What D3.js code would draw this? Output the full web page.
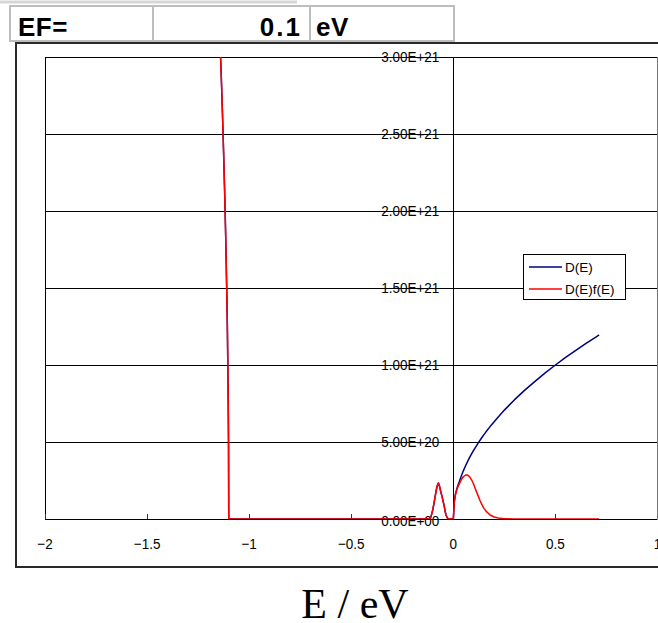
<!DOCTYPE html>
<html>
<head>
<meta charset="utf-8">
<script src="https://cdn.jsdelivr.net/npm/d3@7"></script>
<style>
  html, body { margin: 0; padding: 0; background: #fff; }
  svg { display: block; }
  .tick-label { font-family: "Liberation Sans", Arial, sans-serif; font-size: 15px; fill: #000; }
  .legend-label { font-family: "Liberation Sans", Arial, sans-serif; font-size: 13.5px; fill: #000; }
</style>
</head>
<body>
<svg id="chart" width="658" height="623"></svg>
<script>
// Fermi level shown in the header cells
const fermiLevel = "0.1";

// Energy grid (eV) shared by both curves
const energy = [
  -1.150, -1.145, -1.140, -1.135, -1.130, -1.125, -1.120, -1.115, -1.110, -1.107, -1.104, -1.102, -1.101, -1.100,
  -0.120, -0.117, -0.110, -0.101, -0.095, -0.085, -0.079, -0.073, -0.068, -0.060, -0.055, -0.049, -0.044, -0.040, -0.036, -0.030, -0.023,
  0.000, 0.005, 0.010, 0.020, 0.030, 0.040, 0.050, 0.060, 0.070, 0.080, 0.090, 0.100, 0.110, 0.120, 0.130, 0.140, 0.150, 0.160,
  0.180, 0.200, 0.220, 0.250, 0.300, 0.350, 0.400, 0.450, 0.500, 0.550, 0.600, 0.650, 0.700, 0.714
];

// Density of states D(E)
const dos = [
  3.35e21, 3.18e21, 3.00e21, 2.81e21, 2.60e21, 2.37e21, 2.12e21, 1.84e21, 1.50e21, 1.26e21, 9.5e20, 6.7e20, 4.7e20, 0,
  0, 0, 1.2e19, 5.8e19, 1.00e20, 1.77e20, 2.15e20, 2.34e20, 2.15e20, 1.70e20, 1.45e20, 1.10e20, 8.0e19, 5.0e19, 2.6e19, 8e18, 0,
  0, 1.15e20, 1.60e20, 2.10e20, 2.45e20, 2.83e20, 3.16e20, 3.46e20, 3.74e20, 4.00e20, 4.24e20, 4.47e20, 4.69e20, 4.90e20, 5.10e20, 5.29e20, 5.48e20, 5.66e20,
  6.00e20, 6.32e20, 6.63e20, 7.07e20, 7.75e20, 8.37e20, 8.94e20, 9.49e20, 1.000e21, 1.049e21, 1.095e21, 1.140e21, 1.183e21, 1.195e21
];

// Occupied states D(E)f(E)
const dosOccupied = [
  3.35e21, 3.18e21, 3.00e21, 2.81e21, 2.60e21, 2.37e21, 2.12e21, 1.84e21, 1.50e21, 1.26e21, 9.5e20, 6.7e20, 4.7e20, 0,
  0, 0, 1.2e19, 5.8e19, 1.00e20, 1.77e20, 2.15e20, 2.34e20, 2.15e20, 1.70e20, 1.44e20, 1.09e20, 7.9e19, 4.9e19, 2.6e19, 8e18, 0,
  0, 1.12e20, 1.55e20, 2.01e20, 2.30e20, 2.58e20, 2.76e20, 2.85e20, 2.85e20, 2.74e20, 2.53e20, 2.24e20, 1.89e20, 1.55e20, 1.22e20, 9.3e19, 6.9e19, 5.1e19,
  2.6e19, 1.3e19, 6.3e18, 2.1e18, 3e17, 0, 0, 0, 0, 0, 0, 0, 0, 0
];

const xTicks = [-2, -1.5, -1, -0.5, 0, 0.5, 1];
const yTicks = [0, 5e20, 1e21, 1.5e21, 2e21, 2.5e21, 3e21];
const seriesNames = ["D(E)", "D(E)f(E)"];
const seriesColors = ["#000080", "#ff0000"];

// axis labels use a horizontally condensed sans face
const NARROW = 0.9;
const narrowText = (sel, px, py) =>
  sel.attr("class", "tick-label")
     .attr("transform", (d, i) => `translate(${px(d, i)},${py(d, i)}) scale(${NARROW},1)`);

const svg = d3.select("#chart");

// ---- header cells: "EF= | 0.1 | eV" ----
svg.append("line").attr("x1", 0).attr("x2", 297).attr("y1", 2).attr("y2", 2)
  .attr("stroke", "#d6d6d6").attr("stroke-width", 3);
const header = svg.append("g");
header.append("rect").attr("x", 10).attr("y", 6).attr("width", 444).attr("height", 35)
  .attr("fill", "#fff").attr("stroke", "#bdbdbd").attr("stroke-width", 2);
[153, 310].forEach(x => header.append("line").attr("x1", x).attr("x2", x).attr("y1", 6).attr("y2", 41)
  .attr("stroke", "#bdbdbd").attr("stroke-width", 2));
const headStyle = s => s.attr("font-family", "'Liberation Sans', Arial, sans-serif")
  .attr("font-weight", "bold").attr("font-size", 26).attr("fill", "#000");
header.append("text").attr("x", 18).attr("y", 36).attr("letter-spacing", 0.5).text("EF=").call(headStyle);
header.append("text").attr("x", 302).attr("y", 36).attr("text-anchor", "end").attr("letter-spacing", 2).text(fermiLevel).call(headStyle);
header.append("text").attr("x", 316).attr("y", 36).attr("letter-spacing", 0.5).text("eV").call(headStyle);

// ---- chart frame ----
svg.append("rect").attr("x", 16).attr("y", 43).attr("width", 700).attr("height", 524)
  .attr("fill", "none").attr("stroke", "#2a2a2a").attr("stroke-width", 2);

// ---- plot area ----
const plot = { left: 45, right: 657.5, top: 57, bottom: 519 };
const x = d3.scaleLinear().domain([-2, 1]).range([plot.left, plot.right]);
const y = d3.scaleLinear().domain([0, 3e21]).range([plot.bottom, plot.top]);

svg.append("defs").append("clipPath").attr("id", "plot-clip")
  .append("rect").attr("x", plot.left).attr("y", plot.top)
  .attr("width", plot.right - plot.left).attr("height", plot.bottom - plot.top);

// horizontal grid lines
svg.append("g").selectAll("line").data(yTicks).join("line")
  .attr("x1", plot.left).attr("x2", plot.right)
  .attr("y1", d => Math.round(y(d)) + 0.5).attr("y2", d => Math.round(y(d)) + 0.5)
  .attr("stroke", "#000").attr("stroke-width", 1);

// plot border (left & right edges)
svg.append("line").attr("x1", plot.left + 0.5).attr("x2", plot.left + 0.5)
  .attr("y1", plot.top).attr("y2", plot.bottom).attr("stroke", "#000");
svg.append("line").attr("x1", plot.right).attr("x2", plot.right)
  .attr("y1", plot.top).attr("y2", plot.bottom).attr("stroke", "#777");

// vertical axis at E = 0
svg.append("line").attr("x1", Math.round(x(0)) + 0.5).attr("x2", Math.round(x(0)) + 0.5)
  .attr("y1", plot.top).attr("y2", plot.bottom).attr("stroke", "#000");

// x tick marks (inside, upward)
svg.append("g").selectAll("line").data(xTicks).join("line")
  .attr("x1", d => Math.round(x(d)) + 0.5).attr("x2", d => Math.round(x(d)) + 0.5)
  .attr("y1", plot.bottom - 5).attr("y2", plot.bottom)
  .attr("stroke", "#333");

// y tick labels, placed left of the E = 0 axis
const sciFormat = v => {
  const [m, e] = d3.format(".2e")(v).split("e");
  const sign = e[0] === "-" ? "-" : "+";
  return m + "E" + sign + String(Math.abs(+e)).padStart(2, "0");
};
svg.append("g").selectAll("text").data(yTicks).join("text")
  .call(narrowText, () => x(0) - 14, d => y(d) + (d === 0 ? 2 : 0))
  .attr("dy", "0.36em").attr("text-anchor", "end")
  .text(sciFormat);

// x tick labels
const xFormat = d3.format("");
svg.append("g").selectAll("text").data(xTicks).join("text")
  .call(narrowText, d => x(d), () => 548.5)
  .attr("text-anchor", "middle")
  .text(xFormat);

// ---- curves ----
const line = d3.line().x(d => x(d[0])).y(d => y(d[1]));
const curves = svg.append("g").attr("clip-path", "url(#plot-clip)");
[dos, dosOccupied].forEach((vals, i) => {
  curves.append("path")
    .datum(energy.map((e, k) => [e, vals[k]]))
    .attr("d", line)
    .attr("fill", "none")
    .attr("stroke", seriesColors[i])
    .attr("stroke-width", 1.5)
    .attr("stroke-linejoin", "round");
});

// ---- legend ----
const legend = svg.append("g").attr("transform", "translate(523,254)");
legend.append("rect").attr("x", 0.5).attr("y", 0.5).attr("width", 102).attr("height", 45)
  .attr("fill", "#fff").attr("stroke", "#000");
seriesNames.forEach((name, i) => {
  const ly = 13 + i * 22;
  legend.append("line").attr("x1", 6).attr("x2", 39).attr("y1", ly).attr("y2", ly)
    .attr("stroke", seriesColors[i]).attr("stroke-width", 1.5);
  legend.append("text").attr("class", "legend-label").attr("x", 42).attr("y", ly)
    .attr("dy", "0.36em").text(name);
});

// ---- axis title ----
svg.append("text").attr("x", 355).attr("y", 618).attr("text-anchor", "middle")
  .attr("font-family", "'Liberation Serif', 'Times New Roman', serif")
  .attr("font-size", 42).attr("fill", "#000")
  .text("E / eV");
</script>
</body>
</html>
